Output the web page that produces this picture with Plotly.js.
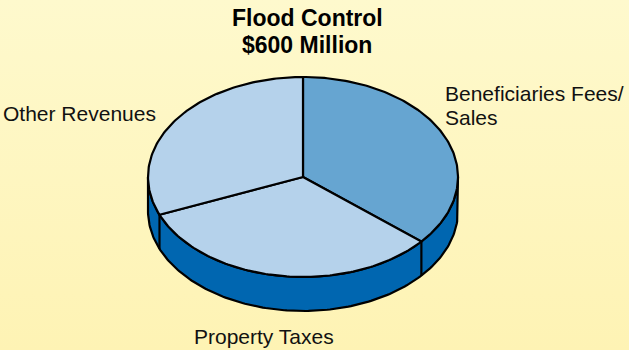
<!DOCTYPE html>
<html>
<head>
<meta charset="utf-8">
<script src="https://cdn.plot.ly/plotly-3.0.1.min.js"></script>
<style>html,body{margin:0;padding:0;background:#FEF6C0;}#chart{width:629px;height:350px;}</style>
</head>
<body>
<div id="chart"></div>
<script>
// ---- data ($ millions) ----
const categories = ["Beneficiaries Fees/<br>Sales", "Property Taxes", "Other Revenues"];
const values = [217, 196, 187];
const titleLines = ["Flood Control", "$600 Million"];

// ---- styling / geometry ----
const sliceColors = ["#66A5D1", "#B5D2EB", "#B5D2EB"];
const sideColor = "#0066B0";
const bg = "#FEF6C0";
const cx = 303, cy = 177, ra = 155, rb = 100, depth = 34;
const startDeg = 90; // first slice starts at 12 o'clock, clockwise

function pt(tDeg, dz) {
  const t = tDeg * Math.PI / 180;
  return [cx + ra * Math.cos(t), cy - rb * Math.sin(t) + (dz || 0)];
}

const total = values.reduce((s, v) => s + v, 0);
const bounds = [];
let acc = startDeg;
bounds.push(acc);
values.forEach(v => { acc -= v / total * 360; bounds.push(acc); });

const traces = [];
// side band (front half, t from 180 to 360)
{
  const xs = [], ys = [];
  for (let t = 180; t <= 360; t += 1) { const p = pt(t); xs.push(p[0]); ys.push(p[1]); }
  for (let t = 360; t >= 180; t -= 1) { const p = pt(t, depth); xs.push(p[0]); ys.push(p[1]); }
  xs.push(xs[0]); ys.push(ys[0]);
  traces.push({type: "scatter", mode: "lines", x: xs, y: ys, fill: "toself",
    fillcolor: sideColor, line: {color: "#000", width: 2.2}, hoverinfo: "skip"});
}
// vertical edges where slice boundaries cross the visible front
bounds.slice(0, -1).forEach(b => {
  const s = Math.sin(b * Math.PI / 180);
  if (s < -0.01) {
    const p1 = pt(b), p2 = pt(b, depth);
    traces.push({type: "scatter", mode: "lines", x: [p1[0], p2[0]], y: [p1[1], p2[1]],
      line: {color: "#000", width: 2.2}, hoverinfo: "skip"});
  }
});
// top slices
values.forEach((v, i) => {
  const a0 = bounds[i], a1 = bounds[i + 1];
  const xs = [cx], ys = [cy];
  const n = Math.max(8, Math.ceil(Math.abs(a0 - a1)));
  for (let k = 0; k <= n; k++) {
    const p = pt(a0 + (a1 - a0) * k / n); xs.push(p[0]); ys.push(p[1]);
  }
  xs.push(cx); ys.push(cy);
  traces.push({type: "scatter", mode: "lines", x: xs, y: ys, fill: "toself",
    fillcolor: sliceColors[i], line: {color: "#000", width: 2.2}, name: categories[i],
    hoverinfo: "name"});
});

const font = {family: "Liberation Sans, Arial, Helvetica, sans-serif", size: 21, color: "#111"};
const tfont = Object.assign({}, font, {size: 23, color: "#000"});
const annotations = [
  {text: "<b>" + titleLines[0] + "</b>", x: 307, y: 18, font: tfont, xanchor: "center"},
  {text: "<b>" + titleLines[1] + "</b>", x: 307, y: 45, font: tfont, xanchor: "center"},
  {text: categories[0].split("<br>")[0], x: 443, y: 93, font: font, xanchor: "left"},
  {text: categories[0].split("<br>")[1], x: 443, y: 117, font: font, xanchor: "left"},
  {text: categories[2], x: 1, y: 113, font: font, xanchor: "left"},
  {text: categories[1], x: 192, y: 336, font: font, xanchor: "left"}
].map(a => Object.assign({xref: "x", yref: "y", yanchor: "middle", showarrow: false}, a));

const gradSvg = '<svg xmlns="http://www.w3.org/2000/svg" width="10" height="100" preserveAspectRatio="none">' +
  '<defs><linearGradient id="g" x1="0" y1="0" x2="0" y2="1">' +
  '<stop offset="0" stop-color="#FEF9CD"/><stop offset="1" stop-color="#FEF3B4"/></linearGradient></defs>' +
  '<rect width="10" height="100" fill="url(#g)"/></svg>';

const layout = {
  width: 629, height: 350,
  margin: {l: 0, r: 0, t: 0, b: 0},
  paper_bgcolor: bg, plot_bgcolor: "rgba(0,0,0,0)",
  showlegend: false,
  xaxis: {range: [0, 629], visible: false, fixedrange: true},
  yaxis: {range: [350, 0], visible: false, fixedrange: true},
  images: [{source: "data:image/svg+xml;charset=utf-8," + encodeURIComponent(gradSvg),
    xref: "paper", yref: "paper", x: 0, y: 1, sizex: 1, sizey: 1,
    sizing: "stretch", xanchor: "left", yanchor: "top", layer: "below"}],
  annotations: annotations
};
Plotly.newPlot("chart", traces, layout, {displayModeBar: false, staticPlot: true});
</script>
</body>
</html>
